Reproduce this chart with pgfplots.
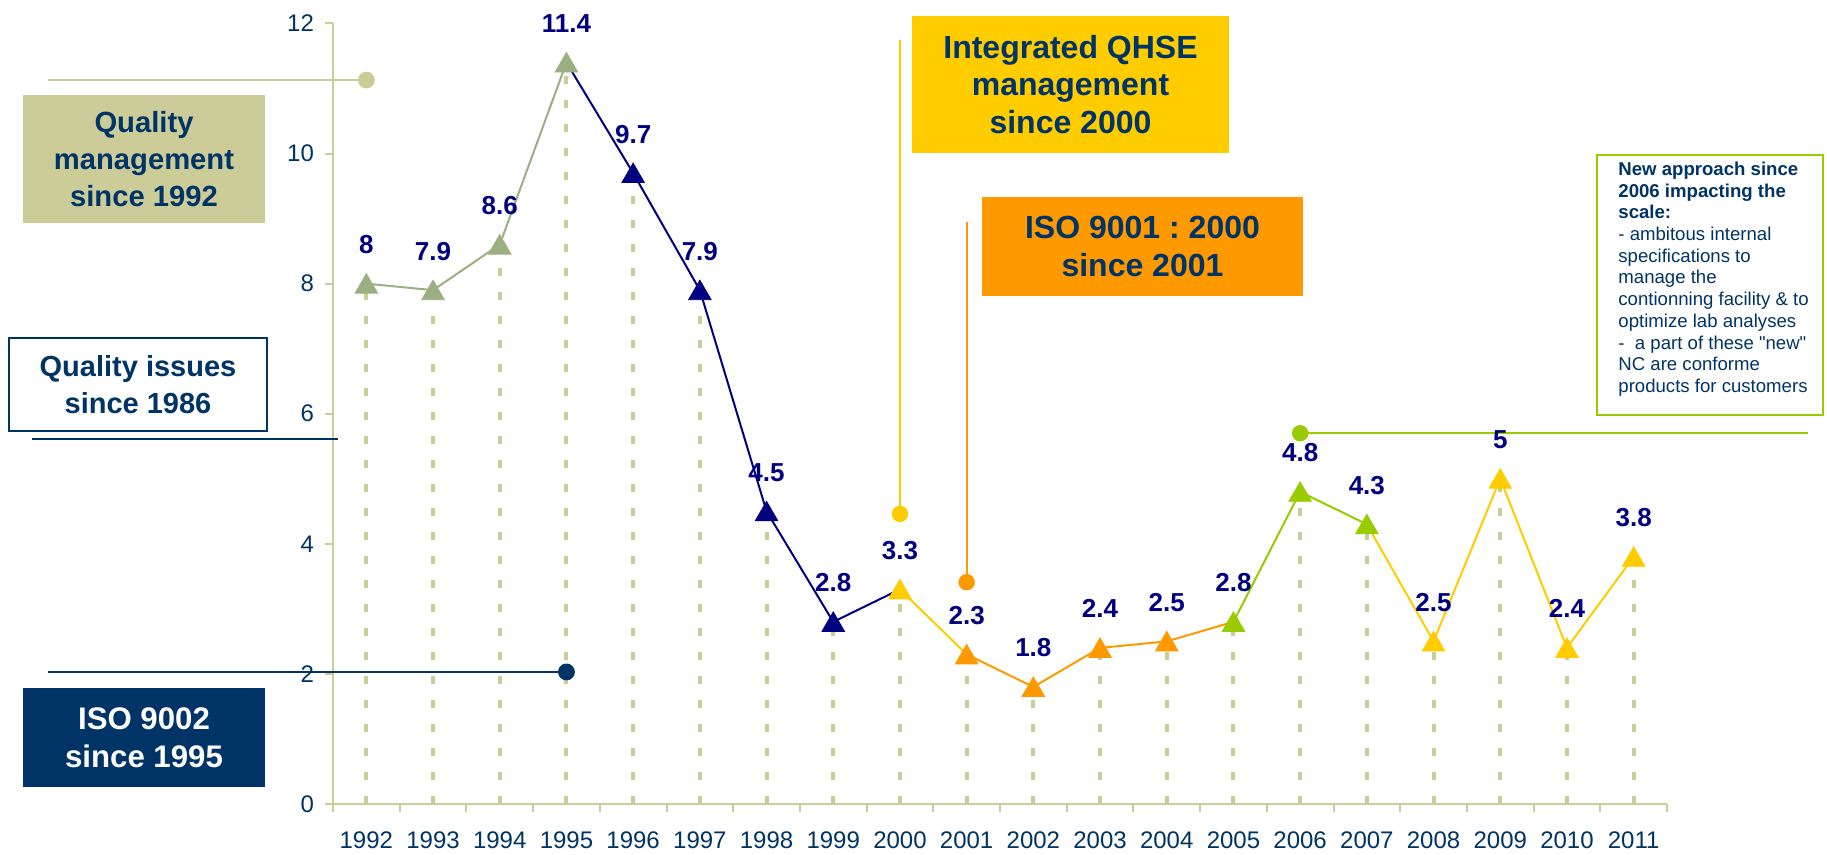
\documentclass[border=0pt]{standalone}
\usepackage{pgfplots}
\pgfplotsset{compat=1.18}
\usepackage{pgfplotstable}
\usepackage{fontspec}
\setmainfont{Liberation Sans}[Ligatures=TeXOff]
\frenchspacing
\definecolor{khaki}{HTML}{CCCC99}
\definecolor{sage}{HTML}{9AAF82}
\definecolor{navyA}{HTML}{000080}
\definecolor{navyT}{HTML}{003366}
\definecolor{qyellow}{HTML}{FFCC00}
\definecolor{qorange}{HTML}{FF9900}
\definecolor{qgreen}{HTML}{99CC00}

\pgfplotstableread{
x y
0 8
1 7.9
2 8.6
3 11.4
4 9.7
5 7.9
6 4.5
7 2.8
8 3.3
9 2.3
10 1.8
11 2.4
12 2.5
13 2.8
14 4.8
15 4.3
16 2.5
17 5
18 2.4
19 3.8
}\datatab

\begin{document}
\begin{tikzpicture}
\useasboundingbox (0,0) rectangle (913.5pt,427.5pt);
\begin{axis}[
  at={(166.5pt,25.5pt)}, anchor=south west,
  scale only axis, width=667pt, height=390.25pt,
  xmin=-0.5, xmax=19.5, ymin=0, ymax=12,
  clip=false,
  axis x line*=bottom, axis y line*=left,
  axis line style={draw=khaki, line width=1pt, -},
  xtick={0,...,19},
  xticklabels={1992,1993,1994,1995,1996,1997,1998,1999,2000,2001,2002,2003,2004,2005,2006,2007,2008,2009,2010,2011},
  major x tick style={draw=none},
  minor xtick={-0.5,0.5,...,19.5},
  ytick={0,2,...,12},
  tick align=outside,
  tick style={draw=khaki, line width=1pt},
  major tick length=4pt, minor tick length=4pt,
  ticklabel style={font=\fontsize{12}{14}\selectfont, text=navyT},
  xticklabel style={yshift=-6.5pt},
  yticklabel style={xshift=-2pt},
  /pgf/number format/assume math mode=true,
  mark options={solid},
]
% drop lines
\addplot[ycomb, draw=khaki, line width=2pt, dash pattern=on 4pt off 8pt, no marks] table {\datatab};
% annotation lines
\addplot[khaki, line width=1pt, mark=*, mark indices={2}, mark size=3.7pt] coordinates {(-4.77,11.13)(0,11.13)};
\addplot[navyT, line width=1pt, mark=*, mark indices={2}, mark size=3.7pt] coordinates {(-4.77,2.03)(3,2.03)};
\addplot[navyT, line width=0.8pt, no marks] coordinates {(-5.01,5.61)(-0.43,5.61)};
\addplot[qyellow, line width=1pt, mark=*, mark indices={2}, mark size=3.6pt] coordinates {(8,11.75)(8,4.46)};
\addplot[qorange, line width=1pt, mark=*, mark indices={2}, mark size=3.6pt] coordinates {(9,8.95)(9,3.41)};
\addplot[qgreen, line width=1pt, mark=*, mark indices={1}, mark size=3.6pt] coordinates {(14,5.70)(21.61,5.70)};
% series lines
\addplot[sage, line width=1pt, no marks] coordinates {(0,8)(1,7.9)(2,8.6)(3,11.4)};
\addplot[navyA, line width=1pt, no marks] coordinates {(3,11.4)(4,9.7)(5,7.9)(6,4.5)(7,2.8)(8,3.3)};
\addplot[qyellow, line width=1pt, no marks] coordinates {(8,3.3)(9,2.3)};
\addplot[qorange, line width=1pt, no marks] coordinates {(9,2.3)(10,1.8)(11,2.4)(12,2.5)(13,2.8)};
\addplot[qgreen, line width=1pt, no marks] coordinates {(13,2.8)(14,4.8)(15,4.3)};
\addplot[qyellow, line width=1pt, no marks] coordinates {(15,4.3)(16,2.5)(17,5)(18,2.4)(19,3.8)};
% markers
\addplot[only marks, mark=triangle*, mark size=6.5pt, color=sage, mark options={yshift=-1.5pt}] coordinates {(0,8)(1,7.9)(2,8.6)(3,11.4)};
\addplot[only marks, mark=triangle*, mark size=6.5pt, color=navyA, mark options={yshift=-1.5pt}] coordinates {(4,9.7)(5,7.9)(6,4.5)(7,2.8)};
\addplot[only marks, mark=triangle*, mark size=6.5pt, color=qyellow, mark options={yshift=-1.5pt}] coordinates {(8,3.3)};
\addplot[only marks, mark=triangle*, mark size=6.5pt, color=qorange, mark options={yshift=-1.5pt}] coordinates {(9,2.3)(10,1.8)(11,2.4)(12,2.5)};
\addplot[only marks, mark=triangle*, mark size=6.5pt, color=qgreen, mark options={yshift=-1.5pt}] coordinates {(13,2.8)(14,4.8)(15,4.3)};
\addplot[only marks, mark=triangle*, mark size=6.5pt, color=qyellow, mark options={yshift=-1.5pt}] coordinates {(16,2.5)(17,5)(18,2.4)(19,3.8)};
% value labels
\addplot[draw=none, no marks, nodes near coords,
  every node near coord/.append style={anchor=center, yshift=19.5pt, font=\bfseries\fontsize{13}{15}\selectfont, text=navyA}] table {\datatab};
\end{axis}
% boxes
\node[fill=khaki, minimum width=121pt, minimum height=64pt, inner sep=0pt, align=center, text=navyT, font=\bfseries\fontsize{14.6}{18.3}\selectfont] at (72pt,348pt) {Quality\\management\\since 1992};
\node[fill=white, draw=navyT, line width=0.7pt, minimum width=129pt, minimum height=46.5pt, inner sep=0pt, align=center, text=navyT, font=\bfseries\fontsize{14.5}{18.3}\selectfont] at (69pt,235.25pt) {Quality issues\\since 1986};
\node[fill=navyT, minimum width=121pt, minimum height=49.5pt, inner sep=0pt, align=center, text=white, font=\bfseries\fontsize{15.6}{19}\selectfont] at (72pt,58.75pt) {ISO 9002\\since 1995};
\node[fill=qyellow, minimum width=158.5pt, minimum height=68.5pt, inner sep=0pt, align=center, text=navyT, font=\bfseries\fontsize{16}{18.75}\selectfont] at (535.25pt,385.25pt) {Integrated QHSE\\management\\since 2000};
\node[fill=qorange, minimum width=160.5pt, minimum height=49.5pt, inner sep=0pt, align=center, text=navyT, font=\bfseries\fontsize{16}{19}\selectfont] at (571.25pt,304.25pt) {ISO 9001 : 2000\\since 2001};
\draw[qgreen, line width=1pt, fill=white] (798.5pt,220pt) rectangle (911.5pt,350pt);
\node[anchor=north west, inner sep=0pt, align=left, text=navyT, font=\fontsize{9.3}{10.85}\selectfont] at (809pt,346.7pt) {\textbf{New approach since}\\\textbf{2006 impacting the}\\\textbf{scale:}\\- ambitous internal\\specifications to\\manage the\\contionning facility \& to\\optimize lab analyses\\-\ \ a part of these "new"\\NC are conforme\\products for customers};
\end{tikzpicture}
\end{document}
